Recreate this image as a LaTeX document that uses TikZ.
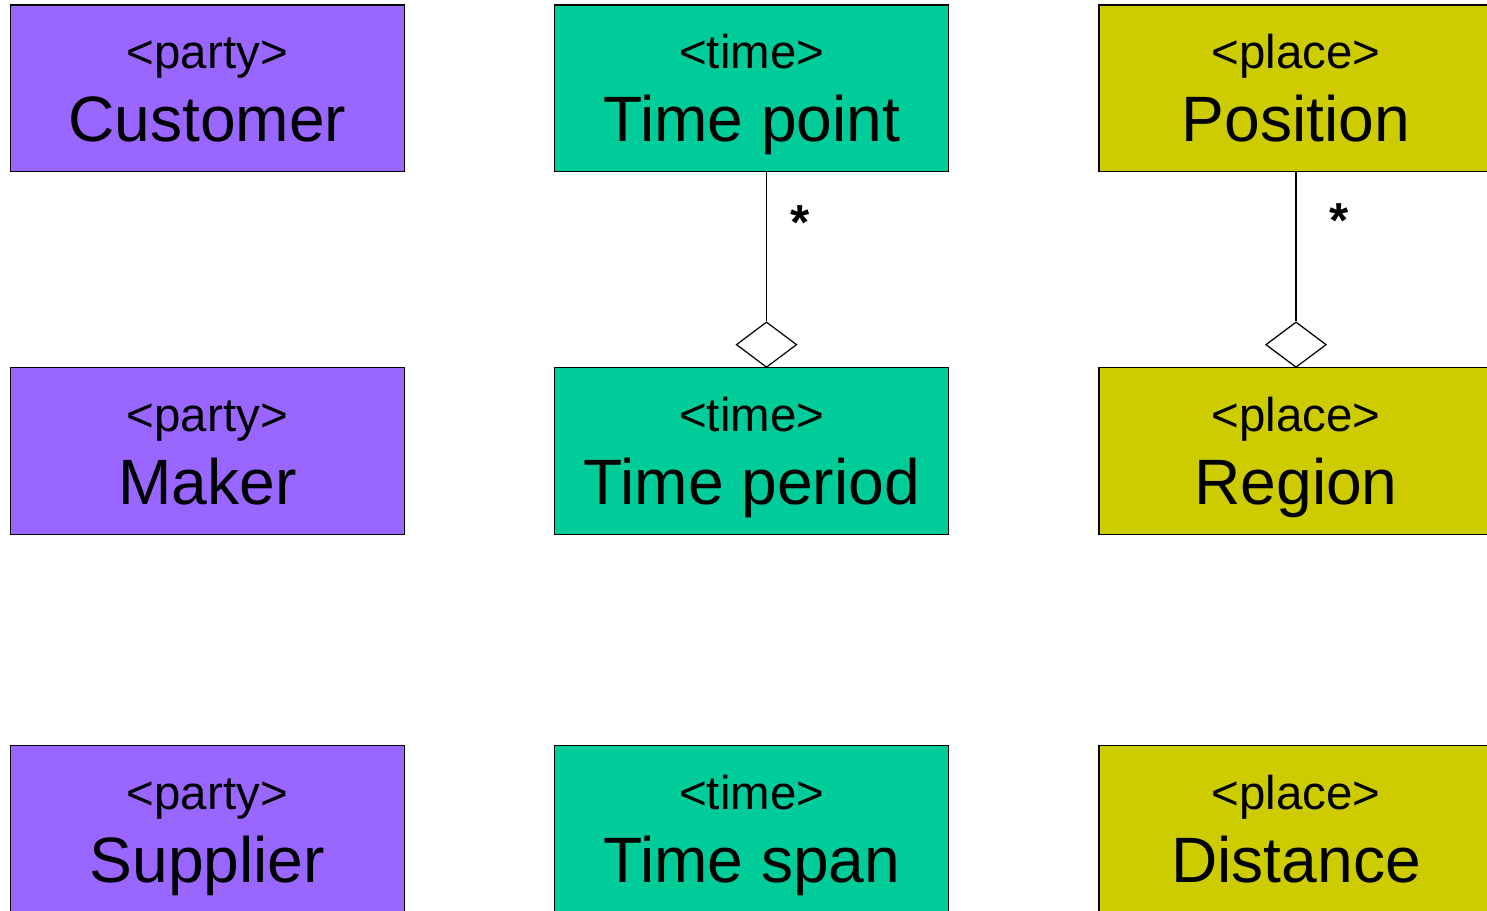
\documentclass[tikz,border=0pt]{standalone}
\usepackage{fontspec}
\setmainfont{Liberation Sans}
\usepackage{tikz}
\usetikzlibrary{shapes.geometric}
\definecolor{partyfill}{HTML}{9966FF}
\definecolor{timefill}{HTML}{00CC99}
\definecolor{placefill}{HTML}{CCCC00}

\begin{document}
\begin{tikzpicture}[x=0.02cm,y=-0.02cm]
\tikzset{box/.style = {draw, line width=0.8pt, minimum width=7.88cm, minimum height=3.33cm, inner sep=0pt}}
\tikzset{stereo/.style = {anchor=base, inner sep=0pt, font=\fontsize{27}{32}\selectfont}}
\tikzset{title/.style = {anchor=base, inner sep=0pt, font=\fontsize{36.5}{42}\selectfont}}
\tikzset{aggr/.style = {shape=diamond, draw, fill=white, line width=0.7pt, minimum width=1.21cm, minimum height=0.91cm, inner sep=0pt, anchor=south}}
\tikzset{mult/.style = {anchor=north west, inner sep=0pt, font=\fontsize{28}{32}\selectfont\bfseries}}
\useasboundingbox (0,0) rectangle (1487,910);
% party column
\node[box, fill=partyfill] (cust) at (207.3,88.3) {};
\node[stereo] (cust-s) at ([yshift=0.40cm]cust.center) {<party>};
\node[title] (cust-t) at ([yshift=-1.07cm]cust.center) {Customer};
\node[box, fill=partyfill] (maker) at (207.3,451) {};
\node[stereo] (maker-s) at ([yshift=0.40cm]maker.center) {<party>};
\node[title] (maker-t) at ([yshift=-1.07cm]maker.center) {Maker};
\node[box, fill=partyfill] (supp) at (207.3,829) {};
\node[stereo] (supp-s) at ([yshift=0.40cm]supp.center) {<party>};
\node[title] (supp-t) at ([yshift=-1.07cm]supp.center) {Supplier};
% time column
\node[box, fill=timefill] (tpoint) at (751.7,88.3) {};
\node[stereo] (tpoint-s) at ([yshift=0.40cm]tpoint.center) {<time>};
\node[title] (tpoint-t) at ([yshift=-1.07cm]tpoint.center) {Time point};
\node[box, fill=timefill] (tperiod) at (751.7,451) {};
\node[stereo] (tperiod-s) at ([yshift=0.40cm]tperiod.center) {<time>};
\node[title] (tperiod-t) at ([yshift=-1.07cm]tperiod.center) {Time period};
\node[box, fill=timefill] (tspan) at (751.7,829) {};
\node[stereo] (tspan-s) at ([yshift=0.40cm]tspan.center) {<time>};
\node[title] (tspan-t) at ([yshift=-1.07cm]tspan.center) {Time span};
% place column
\node[box, fill=placefill] (pos) at (1296,88.3) {};
\node[stereo] (pos-s) at ([yshift=0.40cm]pos.center) {<place>};
\node[title] (pos-t) at ([yshift=-1.07cm]pos.center) {Position};
\node[box, fill=placefill] (region) at (1296,451) {};
\node[stereo] (region-s) at ([yshift=0.40cm]region.center) {<place>};
\node[title] (region-t) at ([yshift=-1.07cm]region.center) {Region};
\node[box, fill=placefill] (dist) at (1296,829) {};
\node[stereo] (dist-s) at ([yshift=0.40cm]dist.center) {<place>};
\node[title] (dist-t) at ([yshift=-1.07cm]dist.center) {Distance};
% aggregations
\node[aggr] (tperiod-a) at (766.5,368) {};
\node[aggr] (region-a) at (1296,368) {};
\draw[line width=0.7pt] (tperiod-a.north |- tpoint.south) -- node[mult, pos=0.22, xshift=0.47cm] (tpoint-m) {*} (tperiod-a.north);
\draw[line width=0.7pt] (region-a.north |- pos.south) -- node[mult, pos=0.207, xshift=0.66cm] (pos-m) {*} (region-a.north);
\end{tikzpicture}
\end{document}
